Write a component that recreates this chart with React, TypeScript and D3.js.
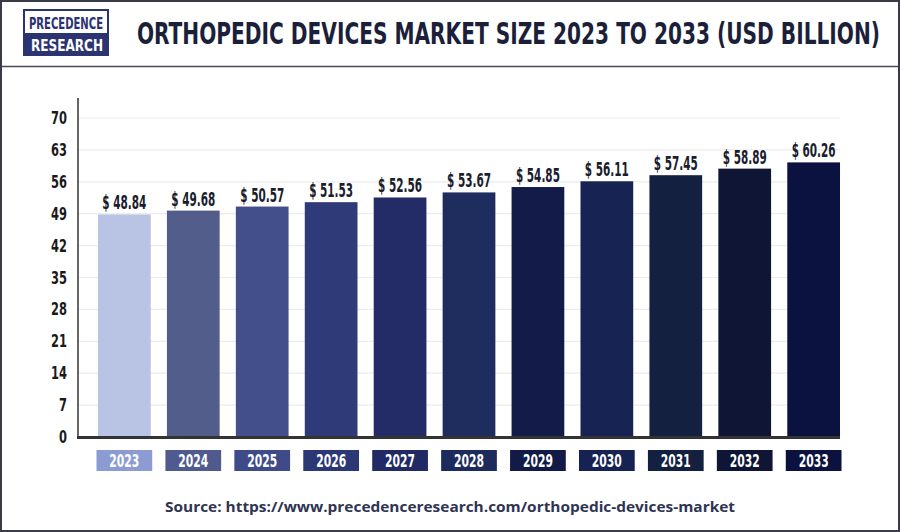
import React from "react";
import * as d3 from "d3";

const years = ["2023", "2024", "2025", "2026", "2027", "2028", "2029", "2030", "2031", "2032", "2033"];
const values = [48.84, 49.68, 50.57, 51.53, 52.56, 53.67, 54.85, 56.11, 57.45, 58.89, 60.26];
const barColors = ["#b9c3e3", "#525d8c", "#434f8a", "#2f3a78", "#232c67", "#1f2d5e", "#131c48", "#172352", "#14203f", "#0e1535", "#0b1240"];
const boxColors = ["#8c9cd3", "#4f5b8e", "#3f4b88", "#2c3776", "#222a65", "#1d2b5c", "#121b47", "#162251", "#13203f", "#0e1535", "#0b1240"];
const yTicks = [0, 7, 14, 21, 28, 35, 42, 49, 56, 63, 70];

const titleWords = ["ORTHOPEDIC", "DEVICES", "MARKET", "SIZE", "2023", "TO", "2033", "(USD", "BILLION)"];
const source = "Source: https://www.precedenceresearch.com/orthopedic-devices-market";

const W = 900;
const H = 532;
const NARROW = "'Liberation Sans Narrow', 'DejaVu Sans Condensed', 'Roboto', sans-serif";

export default function App() {
  const x = d3.scaleBand<string>().domain(years).range([78, 860]).paddingInner(0.235).paddingOuter(0.29);
  const y = d3.scaleLinear().domain([0, 70]).range([437, 118]);
  const bw = x.bandwidth();

  return (
    <svg width={W} height={H} style={{ position: "absolute", left: 0, top: 0, background: "#fff" }}>
      <rect x={0} y={0} width={W} height={H} fill="#ffffff" />
      {/* header */}
      <g>
        <rect x={24} y={10} width={84} height={45} fill="#fff" stroke="#2b3370" strokeWidth={2} />
        <rect x={24} y={33} width={84} height={22} fill="#2b3370" />
        <text x={66} y={29} textAnchor="middle" fontFamily={NARROW} fontWeight={700} fontSize={15} fill="#2b3370" textLength={74} lengthAdjust="spacingAndGlyphs">PRECEDENCE</text>
        <text x={67} y={51} textAnchor="middle" fontFamily={NARROW} fontWeight={700} fontSize={15} fill="#ffffff" textLength={72} lengthAdjust="spacingAndGlyphs">RESEARCH</text>
        <g transform="translate(137,44) scale(1,1.3)">
          <text x={0} y={0} fontFamily={NARROW} fontWeight={700} fontSize={23} fill="#1c1f3a" textLength={743} lengthAdjust="spacingAndGlyphs">{titleWords.join(" ")}</text>
        </g>
      </g>
      <line x1={0} x2={W} y1={66.5} y2={66.5} stroke="#4a4a55" strokeWidth={1.5} />

      {/* grid */}
      {yTicks.map((t) => (
        <line key={"g" + t} x1={79} x2={840} y1={y(t)} y2={y(t)} stroke="#ececec" strokeWidth={1.2} />
      ))}
      {/* y tick labels */}
      {yTicks.map((t) => (
        <g key={"t" + t} transform={`translate(67,${y(t) + 6}) scale(0.85,1.15)`}>
          <text x={0} y={0} textAnchor="end" fontFamily={NARROW} fontWeight={700} fontSize={15} fill="#1a1a1a">{t}</text>
        </g>
      ))}

      {/* bars */}
      {years.map((yr, i) => (
        <g key={yr}>
          <rect x={x(yr)} y={y(values[i])} width={bw} height={y(0) - y(values[i])} fill={barColors[i]} />
          <g transform={`translate(${(x(yr) as number) + bw / 2},${y(values[i]) - 5}) scale(1,1.2)`}>
            <text x={0} y={0} textAnchor="middle" fontFamily={NARROW} fontWeight={700} fontSize={15.5} fill="#1a1d2e" textLength={44} lengthAdjust="spacingAndGlyphs">{"$ " + values[i].toFixed(2)}</text>
          </g>
          <rect x={(x(yr) as number) - 1.5} y={450} width={bw + 3} height={21} fill={boxColors[i]} />
          <g transform={`translate(${(x(yr) as number) + bw / 2},467) scale(1,1.15)`}>
            <text x={0} y={0} textAnchor="middle" fontFamily={NARROW} fontWeight={700} fontSize={15.5} fill="#ffffff" textLength={30} lengthAdjust="spacingAndGlyphs">{yr}</text>
          </g>
        </g>
      ))}

      {/* axes */}
      <line x1={78} x2={78} y1={98} y2={438} stroke="#333" strokeWidth={1.5} />
      <line x1={77} x2={840} y1={437.5} y2={437.5} stroke="#333" strokeWidth={3} />

      {/* source */}
      <text x={450} y={512} textAnchor="middle" fontFamily="'Open Sans', 'Lato', sans-serif" fontWeight={700} fontSize={15} fill="#2e3452" textLength={570} lengthAdjust="spacingAndGlyphs">{source}</text>

      {/* frame */}
      <rect x={1} y={1} width={W - 2} height={H - 2} fill="none" stroke="#3a3a48" strokeWidth={2} />
    </svg>
  );
}
